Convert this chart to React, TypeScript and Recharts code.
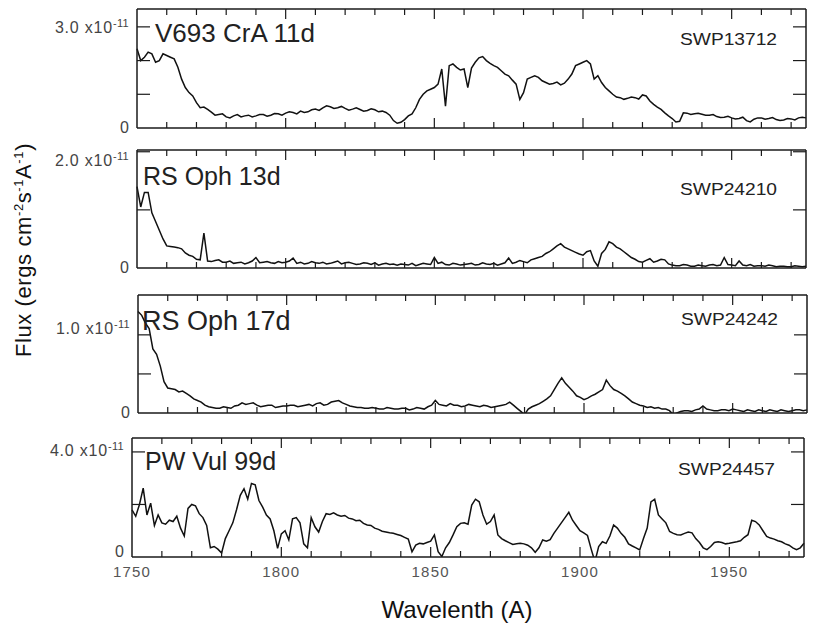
import React from 'react';
import { LineChart, Line, XAxis, YAxis } from 'recharts';

// ── Data (flux in units of 1e-11 ergs cm^-2 s^-1 A^-1) ─────────────────────

const WAVELENGTH = [
  1750, 1751.25, 1752.5, 1753.75, 1755, 1756.25, 1757.5, 1758.75, 1760, 1761.25,
  1762.5, 1763.75, 1765, 1766.25, 1767.5, 1768.75, 1770, 1771.25, 1772.5, 1773.75,
  1775, 1776.25, 1777.5, 1778.75, 1780, 1781.25, 1782.5, 1783.75, 1785, 1786.25,
  1787.5, 1788.75, 1790, 1791.25, 1792.5, 1793.75, 1795, 1796.25, 1797.5, 1798.75,
  1800, 1801.25, 1802.5, 1803.75, 1805, 1806.25, 1807.5, 1808.75, 1810, 1811.25,
  1812.5, 1813.75, 1815, 1816.25, 1817.5, 1818.75, 1820, 1821.25, 1822.5, 1823.75,
  1825, 1826.25, 1827.5, 1828.75, 1830, 1831.25, 1832.5, 1833.75, 1835, 1836.25,
  1837.5, 1838.75, 1840, 1841.25, 1842.5, 1843.75, 1845, 1846.25, 1847.5, 1848.75,
  1850, 1851.25, 1852.5, 1853.75, 1855, 1856.25, 1857.5, 1858.75, 1860, 1861.25,
  1862.5, 1863.75, 1865, 1866.25, 1867.5, 1868.75, 1870, 1871.25, 1872.5, 1873.75,
  1875, 1876.25, 1877.5, 1878.75, 1880, 1881.25, 1882.5, 1883.75, 1885, 1886.25,
  1887.5, 1888.75, 1890, 1891.25, 1892.5, 1893.75, 1895, 1896.25, 1897.5, 1898.75,
  1900, 1901.25, 1902.5, 1903.75, 1905, 1906.25, 1907.5, 1908.75, 1910, 1911.25,
  1912.5, 1913.75, 1915, 1916.25, 1917.5, 1918.75, 1920, 1921.25, 1922.5, 1923.75,
  1925, 1926.25, 1927.5, 1928.75, 1930, 1931.25, 1932.5, 1933.75, 1935, 1936.25,
  1937.5, 1938.75, 1940, 1941.25, 1942.5, 1943.75, 1945, 1946.25, 1947.5, 1948.75,
  1950, 1951.25, 1952.5, 1953.75, 1955, 1956.25, 1957.5, 1958.75, 1960, 1961.25,
  1962.5, 1963.75, 1965, 1966.25, 1967.5, 1968.75, 1970, 1971.25, 1972.5, 1973.75,
  1975,
];

const V693_CRA_11D = [
  2.35, 2.0, 2.1, 2.25, 2.2, 1.95, 2.0, 2.2, 2.15, 2.1,
  2.05, 1.8, 1.45, 1.2, 1.05, 0.95, 0.75, 0.6, 0.62, 0.55,
  0.47, 0.38, 0.4, 0.42, 0.33, 0.3, 0.36, 0.4, 0.33, 0.36,
  0.38, 0.33, 0.36, 0.4, 0.4, 0.35, 0.38, 0.43, 0.42, 0.38,
  0.44, 0.48, 0.46, 0.42, 0.5, 0.46, 0.48, 0.54, 0.56, 0.52,
  0.6, 0.66, 0.63, 0.58, 0.6, 0.64, 0.58, 0.53, 0.56, 0.6,
  0.55, 0.5, 0.52, 0.57, 0.54, 0.48, 0.5, 0.46, 0.38, 0.22,
  0.14, 0.17, 0.25, 0.36, 0.42, 0.6, 0.85, 1.0, 1.1, 1.15,
  1.2, 1.3, 1.75, 0.65, 1.85, 1.9, 1.8, 1.72, 1.75, 1.2,
  1.78, 1.95, 2.08, 2.12, 2.0, 1.92, 1.85, 1.8, 1.7, 1.6,
  1.55, 1.42, 1.3, 0.85, 1.05, 1.45, 1.5, 1.55, 1.5, 1.4,
  1.35, 1.3, 1.32, 1.36, 1.28, 1.33, 1.45, 1.6, 1.85, 1.9,
  1.95, 2.0, 1.9, 1.45, 1.55, 1.35, 1.2, 1.1, 1.0, 0.92,
  0.9, 0.85, 0.88, 0.92, 0.9, 0.86, 0.98, 0.95, 0.8, 0.7,
  0.62, 0.55, 0.45, 0.36, 0.28, 0.18, 0.2, 0.45, 0.44, 0.4,
  0.42, 0.44, 0.41, 0.38, 0.38, 0.4, 0.34, 0.31, 0.32, 0.35,
  0.3, 0.27, 0.28, 0.32, 0.22, 0.18, 0.26, 0.3, 0.3, 0.26,
  0.28, 0.31, 0.25, 0.22, 0.24, 0.28, 0.27, 0.24, 0.3, 0.32,
  0.3,
];

const RS_OPH_13D = [
  1.4, 1.05, 1.3, 1.3, 0.95, 0.8, 0.65, 0.5, 0.38, 0.37,
  0.36, 0.35, 0.33, 0.26, 0.22, 0.2, 0.15, 0.14, 0.6, 0.12,
  0.11, 0.13, 0.14, 0.1, 0.1, 0.12, 0.08, 0.09, 0.1, 0.07,
  0.09, 0.12, 0.18, 0.09, 0.1, 0.11, 0.09, 0.08, 0.11, 0.09,
  0.1, 0.12, 0.17, 0.08, 0.1, 0.07, 0.08, 0.11, 0.09, 0.08,
  0.1, 0.07, 0.08, 0.1, 0.12, 0.07, 0.09, 0.1, 0.08, 0.06,
  0.07, 0.09, 0.08, 0.06, 0.09, 0.05, 0.07, 0.08, 0.06, 0.07,
  0.05, 0.07, 0.06, 0.05, 0.08, 0.04, 0.06, 0.08, 0.07, 0.06,
  0.18, 0.08, 0.1, 0.06, 0.05, 0.08, 0.07, 0.05, 0.06, 0.07,
  0.08, 0.05, 0.06, 0.09, 0.07, 0.06, 0.08, 0.05, 0.07, 0.09,
  0.17, 0.08, 0.1, 0.13, 0.11, 0.09, 0.14, 0.16, 0.18, 0.2,
  0.25, 0.28, 0.33, 0.38, 0.42, 0.36, 0.33, 0.3, 0.27, 0.24,
  0.22, 0.28, 0.3, 0.12, 0.03, 0.25, 0.32, 0.45, 0.42, 0.36,
  0.33, 0.28, 0.23, 0.18, 0.15, 0.11, 0.1, 0.13, 0.16, 0.1,
  0.12, 0.15, 0.14, 0.07, 0.05, 0.04, 0.04, 0.06, 0.05, 0.03,
  0.03, 0.05, 0.04, 0.03, 0.05, 0.06, 0.04, 0.05, 0.18, 0.06,
  0.05, 0.04, 0.12, 0.05, 0.04, 0.06, 0.03, 0.04, 0.04, 0.03,
  0.05, 0.04, 0.02, 0.03, 0.03, 0.02, 0.02, 0.04, 0.03, 0.02,
  0.03,
];

const RS_OPH_17D = [
  1.3, 1.25, 1.15, 1.08, 0.82, 0.75, 0.6, 0.4, 0.32, 0.31,
  0.3, 0.27, 0.28, 0.25, 0.22, 0.18, 0.16, 0.14, 0.1, 0.08,
  0.07, 0.06, 0.06, 0.08, 0.07, 0.06, 0.09, 0.1, 0.13, 0.11,
  0.12, 0.13, 0.1, 0.08, 0.09, 0.1, 0.1, 0.07, 0.08, 0.09,
  0.09, 0.1, 0.1, 0.08, 0.09, 0.1, 0.11, 0.09, 0.12, 0.13,
  0.1, 0.11, 0.14, 0.15, 0.16, 0.13, 0.11, 0.09, 0.08, 0.07,
  0.07, 0.06, 0.06, 0.07, 0.06, 0.05, 0.05, 0.07, 0.06, 0.05,
  0.05, 0.06, 0.06, 0.04, 0.05, 0.07, 0.06, 0.05, 0.08, 0.1,
  0.16, 0.11, 0.1, 0.09, 0.12, 0.1, 0.1, 0.08, 0.09, 0.11,
  0.1, 0.09, 0.08, 0.1, 0.09, 0.07, 0.08, 0.09, 0.1, 0.11,
  0.14, 0.1, 0.06, 0.02, -0.02, 0.05, 0.08, 0.1, 0.12, 0.15,
  0.18, 0.22, 0.3, 0.38, 0.45, 0.38, 0.33, 0.28, 0.22, 0.2,
  0.17, 0.19, 0.22, 0.24, 0.27, 0.3, 0.42, 0.35, 0.3, 0.28,
  0.25, 0.22, 0.18, 0.14, 0.12, 0.1, 0.09, 0.07, 0.08, 0.06,
  0.07, 0.05, 0.05, 0.03, -0.02, 0.0, 0.02, 0.03, 0.03, 0.02,
  0.04, 0.05, 0.09, 0.05, 0.04, 0.03, 0.03, 0.04, 0.04, 0.03,
  0.05, 0.04, 0.03, 0.02, 0.04, 0.03, 0.02, 0.04, 0.03, 0.02,
  0.04, 0.03, 0.02, 0.04, 0.03, 0.02, 0.03, 0.04, 0.04, 0.03,
  0.04,
];

const PW_VUL_99D = [
  1.79, 1.55, 2.0, 2.62, 1.6, 2.05, 1.2, 1.6, 1.3, 1.25,
  1.4, 1.35, 1.55, 1.1, 0.8, 1.85, 2.0, 1.95, 1.65, 1.5,
  1.2, 0.35, 0.4, 0.3, 0.15, 0.7, 1.0, 1.3, 1.8, 2.35,
  2.6, 2.2, 2.8, 2.75, 2.15, 1.9, 1.6, 1.45, 1.0, 0.33,
  0.88, 1.0, 0.65, 1.45, 1.5, 1.3, 0.5, 0.35, 1.5, 1.15,
  0.95, 1.35, 1.65, 1.62, 1.68, 1.6, 1.55, 1.58, 1.48, 1.45,
  1.38, 1.4, 1.28, 1.22, 1.2, 1.1, 1.05, 0.98, 0.95, 0.92,
  0.9, 0.86, 0.82, 0.75, 0.68, 0.2, 0.45, 0.52, 0.5, 0.55,
  0.6, 0.84, 0.2, 0.02, 0.35, 0.55, 0.84, 1.15, 1.28, 1.3,
  1.25, 1.98, 2.2, 2.1, 1.6, 1.25, 1.35, 1.6, 0.84, 0.7,
  0.62, 0.55, 0.48, 0.5, 0.52, 0.5, 0.45, 0.35, 0.18, 0.35,
  0.65, 0.6, 0.66, 0.9, 1.1, 1.3, 1.5, 1.7, 1.4, 1.2,
  1.0, 0.92, 0.82, 0.3, -0.18, 0.4, 0.58, 0.52, 0.8, 1.22,
  1.1, 0.9, 0.75, 0.5, 0.42, 0.35, 0.27, 0.7, 1.1, 2.1,
  2.2, 1.6, 1.45, 1.3, 0.97, 0.9, 0.85, 0.84, 0.9, 0.95,
  0.92, 0.7, 0.55, 0.35, 0.28, 0.4, 0.55, 0.58, 0.55, 0.5,
  0.52, 0.55, 0.58, 0.62, 0.75, 0.85, 1.4, 1.35, 1.22, 1.0,
  0.78, 0.72, 0.68, 0.62, 0.58, 0.5, 0.45, 0.35, 0.28, 0.35,
  0.52,
];

const X_TICKS = [
  1750, 1760, 1770, 1780, 1790, 1800, 1810, 1820, 1830, 1840, 1850, 1860,
  1870, 1880, 1890, 1900, 1910, 1920, 1930, 1940, 1950, 1960, 1970,
];

const OBJECT_NAMES = ['V693 CrA 11d', 'RS Oph 13d', 'RS Oph 17d', 'PW Vul 99d'];
const SPECTRUM_IDS = ['SWP13712', 'SWP24210', 'SWP24242', 'SWP24457'];
const Y_TICKS = [[0, 1, 2, 3], [0, 1, 2], [0, 0.5, 1], [0, 2, 4]];
const Y_LABELLED = [3, 2, 1, 4];
const Y_MAX = [3.53, 2.03, 1.51, 4.53];
const SERIES = [V693_CRA_11D, RS_OPH_13D, RS_OPH_17D, PW_VUL_99D];

// ── Layout ───────────────────────────────────────────────────────────────────

const W = 814;
const FONT = '"Liberation Sans", Arial, Helvetica, sans-serif';
const INK = '#1a1a1a';

// plot-area boxes in page pixels, plus where each panel's texts sit
const BOXES = [
  { left: 137, right: 806, top: 9, bottom: 128, labelDy: 0, zeroDy: 5, titleX: 155, titleY: 42, titleSize: 26, idY: 45 },
  { left: 137, right: 806, top: 150, bottom: 268, labelDy: 8, zeroDy: 5, titleX: 143, titleY: 185, titleSize: 25, idY: 195 },
  { left: 138, right: 807, top: 295, bottom: 413, labelDy: -7, zeroDy: 5, titleX: 142, titleY: 330, titleSize: 27, idY: 325 },
  { left: 132, right: 804, top: 438, bottom: 557, labelDy: -2, zeroDy: 0, titleX: 145, titleY: 470, titleSize: 25, idY: 475 },
];

const AXIS_PAD = 10;
const ABOVE = 20;
const BELOW = 35;

// ── Ticks ────────────────────────────────────────────────────────────────────

function BottomTick(props: any) {
  const { x, y, payload, showLabels } = props;
  const v = payload.value as number;
  const major = v % 50 === 0;
  return (
    <g>
      {v > 1750 && (
        <line x1={x} x2={x} y1={y} y2={y - (major ? 10 : 6)} stroke={INK} strokeWidth={1.2} />
      )}
      {showLabels && major && (
        <text
          x={x}
          y={y + 20}
          textAnchor="middle"
          fontSize={15}
          letterSpacing={1.2}
          fill="#555"
          fontFamily={FONT}
        >
          {v}
        </text>
      )}
    </g>
  );
}

function TopTick(props: any) {
  const { x, y, payload } = props;
  const v = payload.value as number;
  if (v <= 1750) return <g />;
  const major = v % 50 === 0;
  return <line x1={x} x2={x} y1={y} y2={y + (major ? 10 : 6)} stroke={INK} strokeWidth={1.2} />;
}

function LeftTick(props: any) {
  const { x, y, payload, labelled, labelDy, zeroDy } = props;
  const v = payload.value as number;
  return (
    <g>
      {v !== 0 && <line x1={x} x2={x + 13} y1={y} y2={y} stroke={INK} strokeWidth={1.2} />}
      {v === 0 && (
        <text x={x - 8} y={y + zeroDy} textAnchor="end" fontSize={16} fill="#444" fontFamily={FONT}>
          0
        </text>
      )}
      {v === labelled && (
        <text
          x={x - 8}
          y={y + 6 + labelDy}
          textAnchor="end"
          fontSize={16}
          letterSpacing={0.8}
          fill="#444"
          fontFamily={FONT}
        >
          {v.toFixed(1)} x10
          <tspan dy={-6} fontSize={11} letterSpacing={0.3}>
            -11
          </tspan>
        </text>
      )}
    </g>
  );
}

function RightTick(props: any) {
  const { x, y, payload } = props;
  const v = payload.value as number;
  if (v === 0) return <g />;
  return <line x1={x} x2={x - 13} y1={y} y2={y} stroke={INK} strokeWidth={1.2} />;
}

// ── Panel ────────────────────────────────────────────────────────────────────

function Panel({ index }: { index: number }) {
  const box = BOXES[index];
  const values = SERIES[index];
  const rows = WAVELENGTH.map((w, i) => ({ w, f: values[i] }));
  const plotH = box.bottom - box.top;
  const height = ABOVE + plotH + BELOW;
  const frame = { stroke: INK, strokeWidth: 1.5 };
  const yDomain: [number, number] = [0, Y_MAX[index]];
  const showLabels = index === BOXES.length - 1;

  return (
    <div style={{ position: 'absolute', left: 0, top: box.top - ABOVE }}>
      <LineChart
        width={W}
        height={height}
        data={rows}
        margin={{
          top: ABOVE - AXIS_PAD,
          bottom: BELOW - AXIS_PAD,
          left: box.left - AXIS_PAD,
          right: W - box.right - AXIS_PAD,
        }}
      >
        <XAxis
          xAxisId="b"
          dataKey="w"
          type="number"
          domain={[1750, 1975]}
          ticks={X_TICKS}
          interval={0}
          height={AXIS_PAD}
          tickSize={0}
          tickMargin={0}
          tickLine={false}
          axisLine={frame}
          tick={(p: any) => <BottomTick {...p} showLabels={showLabels} />}
        />
        <XAxis
          xAxisId="t"
          orientation="top"
          dataKey="w"
          type="number"
          domain={[1750, 1975]}
          ticks={X_TICKS}
          interval={0}
          height={AXIS_PAD}
          tickSize={0}
          tickMargin={0}
          tickLine={false}
          axisLine={frame}
          tick={(p: any) => <TopTick {...p} />}
        />
        <YAxis
          yAxisId="l"
          type="number"
          domain={yDomain}
          allowDataOverflow
          ticks={Y_TICKS[index]}
          interval={0}
          width={AXIS_PAD}
          tickSize={0}
          tickMargin={0}
          tickLine={false}
          axisLine={frame}
          tick={(p: any) => (
            <LeftTick
              {...p}
              labelled={Y_LABELLED[index]}
              labelDy={box.labelDy}
              zeroDy={box.zeroDy}
            />
          )}
        />
        <YAxis
          yAxisId="r"
          orientation="right"
          type="number"
          domain={yDomain}
          allowDataOverflow
          ticks={Y_TICKS[index]}
          interval={0}
          width={AXIS_PAD}
          tickSize={0}
          tickMargin={0}
          tickLine={false}
          axisLine={frame}
          tick={(p: any) => <RightTick {...p} />}
        />
        <Line
          xAxisId="b"
          yAxisId="l"
          dataKey="f"
          type="linear"
          stroke="#111"
          strokeWidth={1.5}
          dot={false}
          isAnimationActive={false}
        />
      </LineChart>
    </div>
  );
}

// ── App ──────────────────────────────────────────────────────────────────────

export default function App() {
  return (
    <div
      style={{
        position: 'absolute',
        left: 0,
        top: 0,
        width: W,
        height: 634,
        background: '#fff',
        overflow: 'hidden',
      }}
    >
      {BOXES.map((_, i) => (
        <Panel key={i} index={i} />
      ))}
      <svg
        width={W}
        height={634}
        style={{ position: 'absolute', left: 0, top: 0, pointerEvents: 'none' }}
        fontFamily={FONT}
      >
        {BOXES.map((b, i) => (
          <g key={i}>
            <text x={b.titleX} y={b.titleY} fontSize={b.titleSize} fill="#222">
              {OBJECT_NAMES[i]}
            </text>
            <text
              x={b.right - 126}
              y={b.idY}
              fontSize={16}
              fill="#222"
              textLength={97}
              lengthAdjust="spacingAndGlyphs"
            >
              {SPECTRUM_IDS[i]}
            </text>
          </g>
        ))}
        <text x={457} y={618} textAnchor="middle" fontSize={24} fill="#111">
          Wavelenth (A)
        </text>
        <text
          transform="translate(31,250) rotate(-90)"
          textAnchor="middle"
          fontSize={22}
          letterSpacing={0.6}
          fill="#111"
        >
          Flux (ergs cm
          <tspan dy={-8} fontSize={13}>
            -2
          </tspan>
          <tspan dy={8}>s</tspan>
          <tspan dy={-8} fontSize={13}>
            -1
          </tspan>
          <tspan dy={8}>A</tspan>
          <tspan dy={-8} fontSize={13}>
            -1
          </tspan>
          <tspan dy={8}>)</tspan>
        </text>
      </svg>
    </div>
  );
}
